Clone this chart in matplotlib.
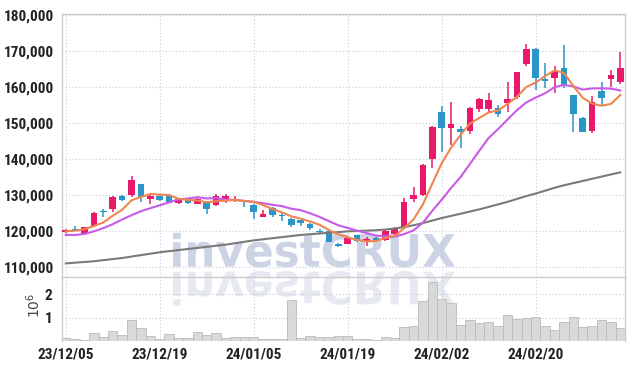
import matplotlib
matplotlib.use("Agg")
import matplotlib.pyplot as plt
import numpy as np
from matplotlib import font_manager
from matplotlib.textpath import TextPath
from matplotlib.patches import PathPatch
from matplotlib.font_manager import FontProperties
from matplotlib.transforms import Affine2D, IdentityTransform

# daily candles, prices in KRW
DATES = ["23/12/05", "23/12/19", "24/01/05", "24/01/19", "24/02/02", "24/02/20"]
OPEN = [119700, 120600, 119300, 121400, 125600, 126000, 129700, 130000, 133000, 128800,
        129700, 130000, 127900, 128800, 127600, 128000, 127200, 128200, 128200, 127600,
        127200, 124000, 126300, 124500, 123300, 123000, 121900, 120100, 120000, 116300,
        116400, 118900, 116900, 118100, 117500, 119100, 120800, 128900, 130000, 140000,
        153100, 148700, 148200, 147900, 154000, 153900, 154100, 155500, 157300, 166400,
        170500, 162100, 162400, 165200, 157800, 151300, 147900, 158900, 162100, 161500]
HIGH = [120500, 121400, 121200, 125200, 126100, 129700, 129900, 135300, 133100, 130000,
        130000, 130100, 129300, 128900, 129100, 128300, 130300, 130300, 129600, 128200,
        127400, 125700, 126600, 125300, 123600, 123100, 122200, 120500, 120200, 116800,
        118100, 119000, 118400, 118400, 120200, 121100, 129300, 132100, 138600, 149300,
        154700, 155900, 149300, 154400, 156900, 158200, 155000, 161300, 164300, 171900,
        170700, 166600, 165700, 171700, 157900, 151800, 157500, 161500, 164700, 169600]
LOW = [119400, 119900, 119100, 121200, 124000, 125400, 128400, 129500, 128000, 127500,
       128300, 127900, 127600, 127400, 127400, 124700, 127000, 127800, 128000, 126800,
       123200, 124000, 123900, 122900, 121200, 121400, 120200, 119400, 116900, 115500,
       116300, 116900, 115800, 117000, 117200, 119000, 120600, 128100, 129700, 137400,
       142000, 143900, 143000, 147000, 153000, 152800, 151800, 153000, 156700, 165700,
       159200, 159600, 158300, 159600, 147600, 147400, 147100, 155000, 160100, 160800]
CLOSE = [120300, 120200, 121000, 125000, 125400, 129500, 128600, 134200, 129500, 129700,
         128500, 128100, 129000, 127800, 128900, 126100, 129600, 129700, 128800, 127400,
         125200, 124700, 124500, 124200, 121700, 122100, 120800, 119800, 117000, 115700,
         118000, 117100, 117700, 117500, 120000, 120600, 128100, 130000, 138300, 149000,
         148700, 149800, 147600, 154200, 156700, 156400, 152500, 156600, 164100, 170500,
         162400, 161600, 164500, 160600, 152400, 147600, 155700, 156900, 163300, 165400]

# moving averages (5, 10 and long period)
MA_SHORT = [119900, 120100, 120500, 121400, 122380, 124220, 125900, 128540, 129440, 130300,
            130100, 130000, 128960, 128620, 128460, 127980, 128280, 128420, 128620, 128320,
            128140, 127160, 126120, 125200, 124060, 123440, 122660, 121720, 120280, 119080,
            118260, 117520, 117100, 117200, 118060, 118580, 120780, 123240, 127400, 133200,
            138820, 143160, 146680, 149860, 151400, 152940, 153480, 155280, 157260, 160020,
            161220, 163040, 164620, 163920, 160300, 157000, 155400, 154800, 155300, 157780]
MA_MID = [118900, 118900, 119200, 119900, 120800, 121900, 123200, 124400, 125500, 126340,
          127160, 127950, 128750, 129030, 129380, 129040, 129140, 128690, 128620, 128390,
          128060, 127720, 127270, 126910, 126190, 125790, 124910, 123920, 122740, 121570,
          120850, 120090, 119410, 118740, 118570, 118420, 119150, 120170, 122300, 125630,
          128700, 131970, 134960, 138630, 142300, 145880, 148320, 150980, 153560, 155710,
          157080, 158260, 159950, 160590, 160160, 159280, 159600, 159630, 159550, 159040]
MA_LONG = [111000, 111200, 111400, 111600, 111900, 112200, 112500, 112900, 113300, 113700,
           114100, 114400, 114700, 115000, 115300, 115600, 115900, 116200, 116600, 117000,
           117400, 117700, 118000, 118300, 118600, 118900, 119100, 119300, 119500, 119700,
           119900, 120000, 120100, 120200, 120400, 120700, 121100, 121600, 122200, 122900,
           123600, 124200, 124800, 125400, 126000, 126700, 127400, 128100, 128900, 129700,
           130400, 131200, 132000, 132700, 133300, 133900, 134500, 135100, 135700, 136300]

# volume in millions of shares
VOLUME_M = [0.11, 0.10, 0.06, 0.34, 0.17, 0.43, 0.26, 0.89, 0.54, 0.20,
            0.10, 0.30, 0.11, 0.11, 0.37, 0.26, 0.34, 0.14, 0.16, 0.16,
            0.16, 0.07, 0.07, 0.07, 1.74, 0.13, 0.20, 0.16, 0.16, 0.21,
            0.20, 0.10, 0.10, 0.06, 0.16, 0.11, 0.59, 0.64, 1.71, 2.51,
            1.79, 1.61, 0.69, 0.89, 0.77, 0.80, 0.63, 1.10, 0.94, 0.97,
            1.01, 0.63, 0.46, 0.80, 1.01, 0.59, 0.63, 0.89, 0.80, 0.54]

UP = "#e8196a"
DOWN = "#2c95c8"
GRID = "#c8cbd9"
FRAME = "#cccccc"


def label_font():
    # the source uses a condensed face; take a narrow one if there is one
    for fam in ["Liberation Sans Narrow", "Roboto Condensed", "Open Sans Condensed"]:
        try:
            font_manager.findfont(FontProperties(family=fam), fallback_to_default=False)
            return fam, 11
        except ValueError:
            pass
    return "Liberation Sans", 9.5


LABEL_FAMILY, LABEL_SIZE = label_font()
plt.rcParams["font.family"] = [LABEL_FAMILY, "DejaVu Sans"]

W, H = 634, 370
fig = plt.figure(figsize=(W / 100, H / 100), dpi=100)
fig.patch.set_facecolor("white")
ax = fig.add_axes([62 / W, 1 - 276.5 / H, 563 / W, 263 / H])
axv = fig.add_axes([62 / W, 1 - 341 / H, 563 / W, 64.5 / H], sharex=ax)
for a in (ax, axv):
    a.set_facecolor("none")

# watermark with its mirror image, behind both panels
fp = FontProperties(family="DejaVu Sans", weight="bold")
tp = TextPath((0, 0), "investCRUX", size=100, prop=fp)
ext = tp.get_extents()
sx = (455 - 173) / ext.width
sy = 34 / ext.ymax
base = H - 266.7
mark = Affine2D().translate(-ext.xmin, 0).scale(sx, sy).translate(173, base)
fig.add_artist(PathPatch(tp, transform=mark + IdentityTransform(),
                         facecolor="#ccd3e5", edgecolor="none", zorder=-1))
mirror = Affine2D().translate(-ext.xmin, 0).scale(sx, -sy).translate(173, base - 5)
fig.add_artist(PathPatch(tp, transform=mirror + IdentityTransform(),
                         facecolor="#e7e9f0", edgecolor="none", zorder=-1))

x = np.arange(len(CLOSE))
o = np.array(OPEN)
c = np.array(CLOSE)
colors = [UP if cc >= oo else DOWN for oo, cc in zip(o, c)]
ax.vlines(x, LOW, HIGH, colors=colors, linewidth=1.1, zorder=3)
ax.bar(x, np.maximum(np.abs(c - o), 150), bottom=np.minimum(o, c), width=0.7,
       color=colors, linewidth=0, zorder=4)
ax.plot(x, MA_LONG, color="#7a7a7a", linewidth=1.5, zorder=5)
ax.plot(x, MA_MID, color="#c95ae8", linewidth=1.5, zorder=5)
ax.plot(x, MA_SHORT, color="#ee8650", linewidth=1.5, zorder=6)

axv.bar(x, VOLUME_M, width=1.0, color="#d5d5d5", edgecolor="#bdbdbd",
        linewidth=0.7, alpha=0.9, zorder=3)

ticks = [0, 10, 20, 30, 40, 50]
ax.set_xlim(-0.4, 59.5)
ax.set_ylim(107360, 180420)
ax.set_yticks(np.arange(110000, 180001, 10000))
ax.set_yticklabels([f"{v:,}" for v in range(110000, 180001, 10000)])
ax.set_xticks(ticks)
ax.tick_params(axis="x", labelbottom=False, length=0)
ax.tick_params(axis="y", length=0, pad=6, labelsize=LABEL_SIZE, labelcolor="#222222")

axv.set_ylim(0, 2.76)
axv.set_yticks([1, 2])
axv.set_yticklabels(["1", "2"])
axv.set_xticks(ticks)
axv.set_xticklabels(DATES)
axv.tick_params(axis="both", length=0, labelsize=LABEL_SIZE, labelcolor="#222222")
axv.tick_params(axis="x", pad=5)
axv.tick_params(axis="y", pad=7)
for lab in ax.get_yticklabels() + axv.get_yticklabels() + axv.get_xticklabels():
    lab.set_fontweight("bold")

for a in (ax, axv):
    a.grid(True, color=GRID, linestyle=(0, (1, 2)), linewidth=0.8, zorder=0)
    a.set_axisbelow(True)
    for s in a.spines.values():
        s.set_color(FRAME)
        s.set_linewidth(1.0)
axv.spines["top"].set_visible(False)
axv.spines["bottom"].set_visible(False)

fig.text(34 / W, 1 - 305 / H, r"$10^6$", rotation=90, fontsize=10,
         color="#444444", ha="center", va="center")

fig.savefig("out.png", dpi=100)
